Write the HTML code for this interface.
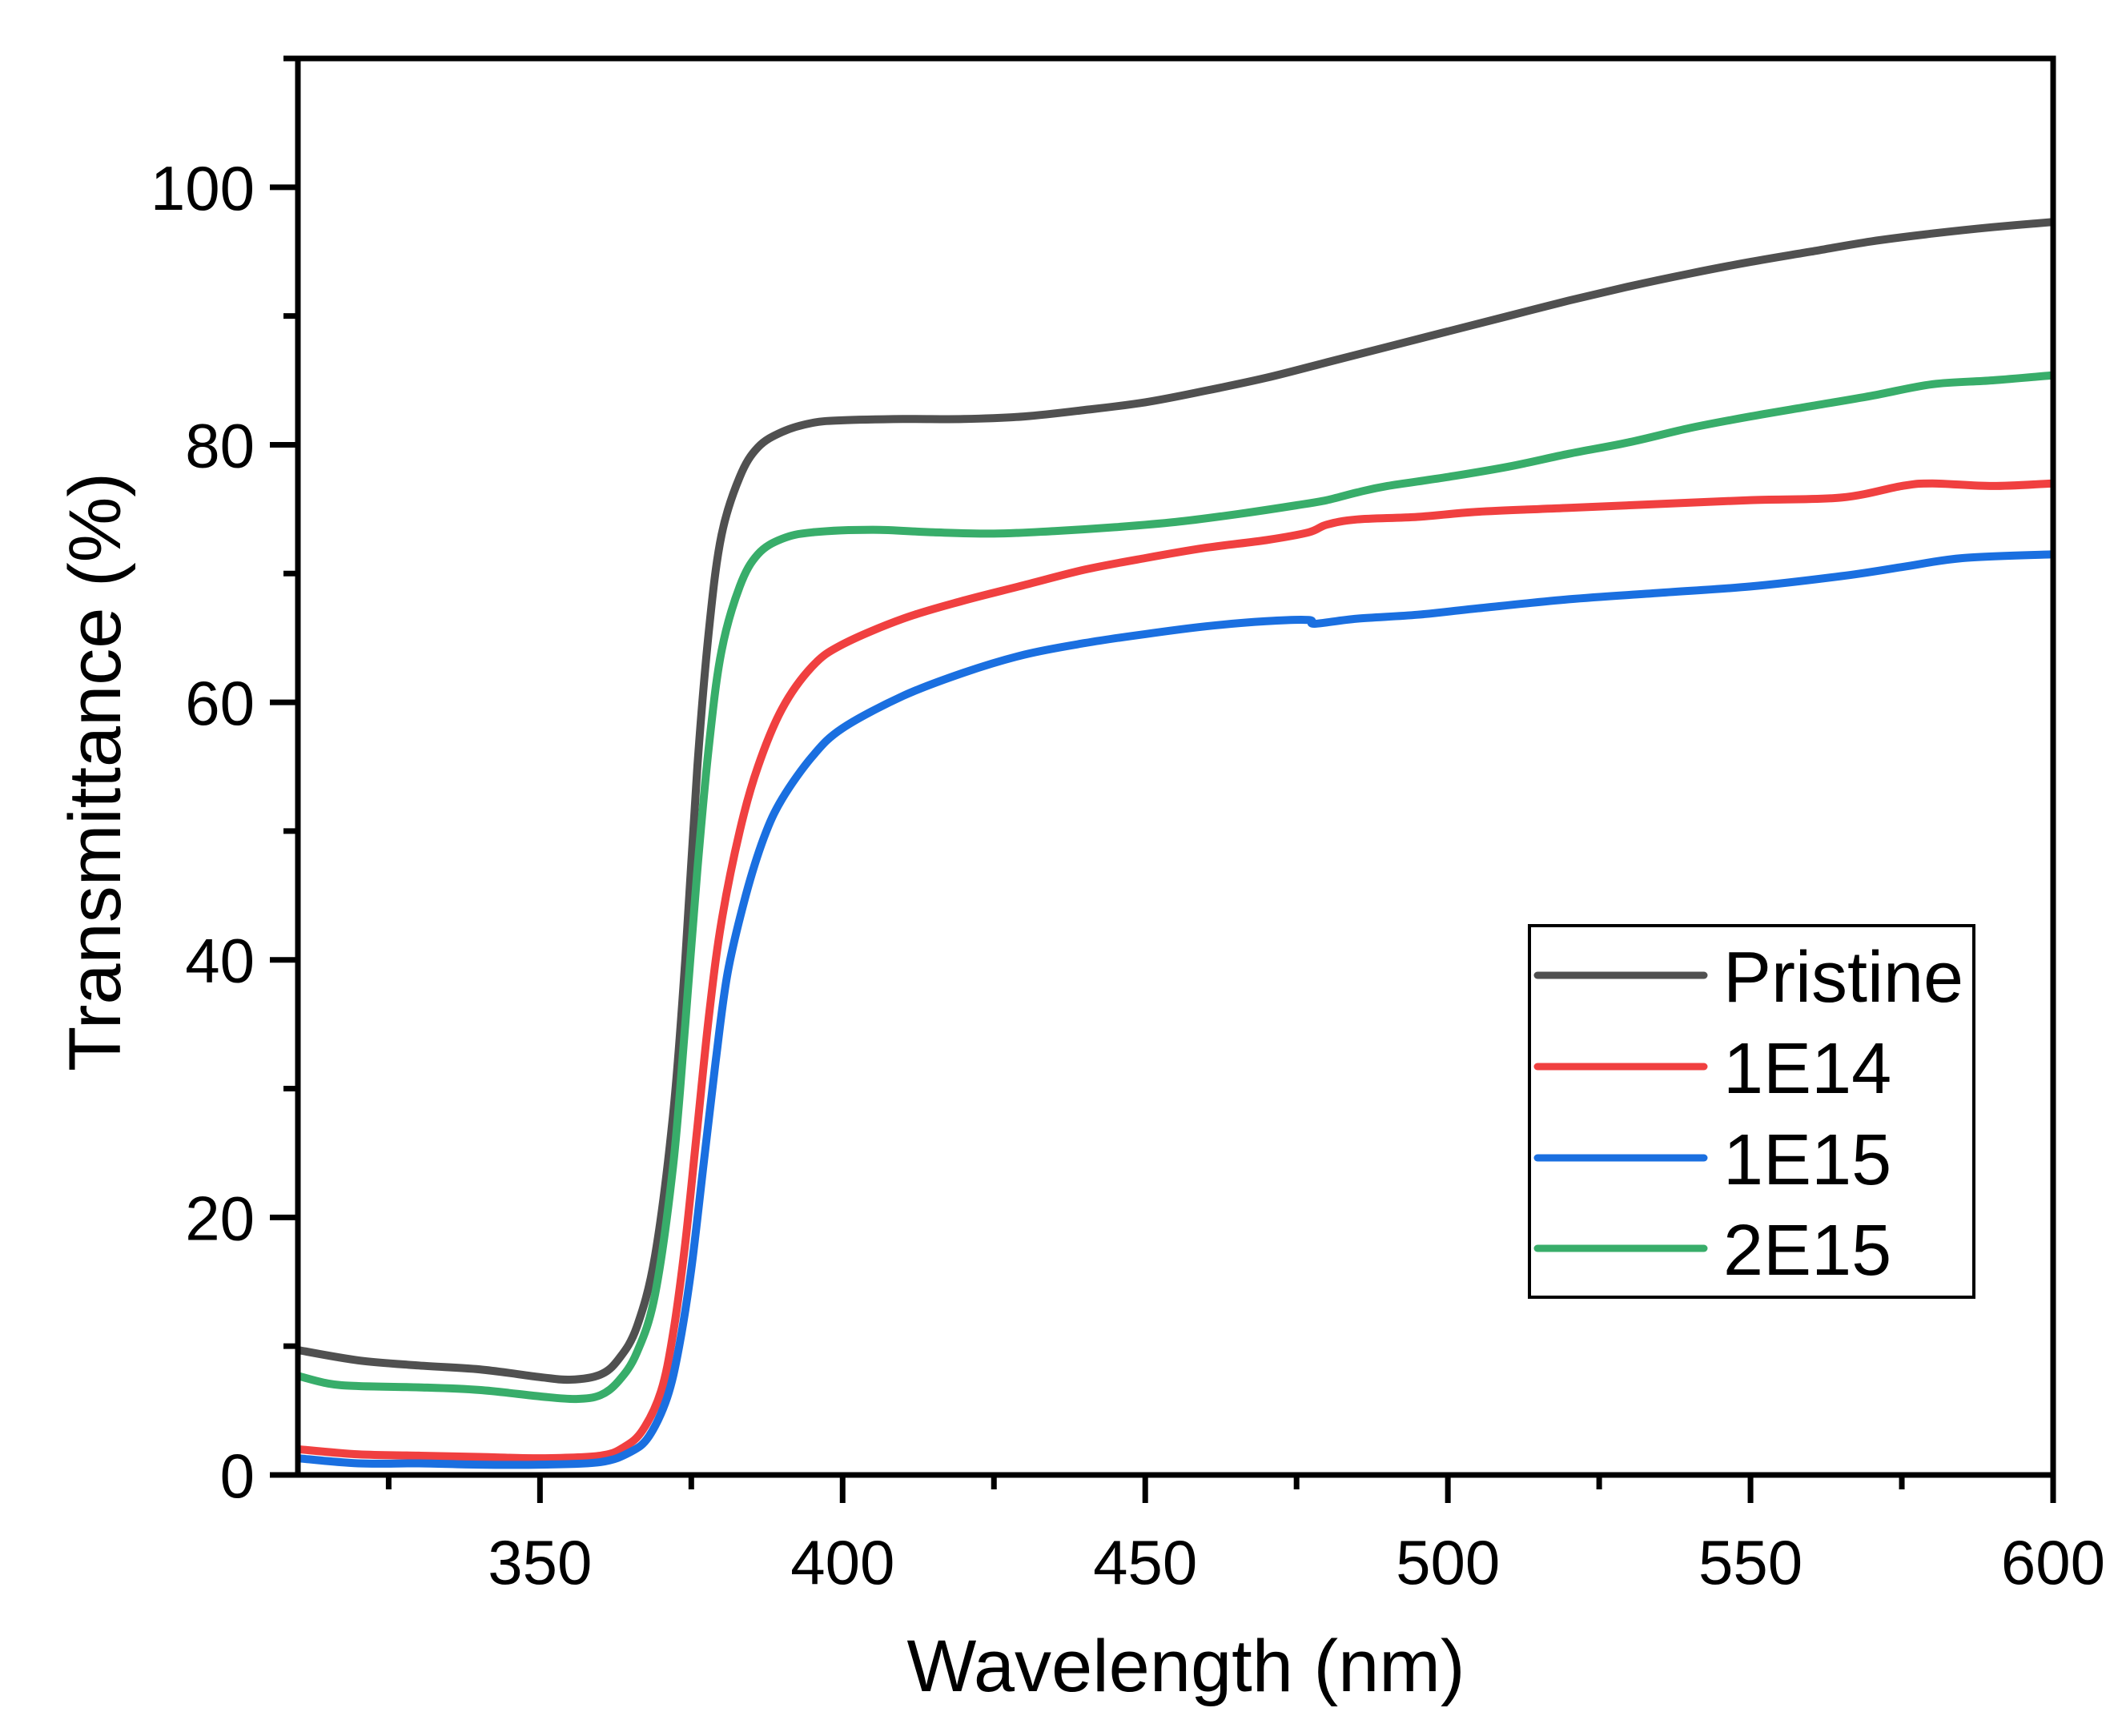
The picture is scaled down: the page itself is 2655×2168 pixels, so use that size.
<!DOCTYPE html>
<html><head><meta charset="utf-8"><style>
html,body{margin:0;padding:0;background:#fff;}
svg{display:block;font-family:"Liberation Sans",Arial,sans-serif;}
</style></head><body>
<svg id="chart" width="2655" height="2168" viewBox="0 0 2655 2168" xmlns="http://www.w3.org/2000/svg">
<rect width="2655" height="2168" fill="#fff"/>
<g id="series"></g>
<g id="axes"></g>
<text x="1481" y="2112" font-size="92" text-anchor="middle">Wavelength (nm)</text>
<text transform="translate(150,964) rotate(-90)" font-size="92" text-anchor="middle">Transmittance (%)</text>
<g>
<rect x="1910" y="1156" width="555" height="464" fill="#fff" stroke="#000" stroke-width="4"/>
<line x1="1920" y1="1218" x2="2128" y2="1218" stroke="#505050" stroke-width="9" stroke-linecap="round"/>
<text x="2152" y="1251" font-size="90">Pristine</text>
<line x1="1920" y1="1332" x2="2128" y2="1332" stroke="#f04040" stroke-width="9" stroke-linecap="round"/>
<text x="2152" y="1365" font-size="90">1E14</text>
<line x1="1920" y1="1446" x2="2128" y2="1446" stroke="#1a6fe0" stroke-width="9" stroke-linecap="round"/>
<text x="2152" y="1479" font-size="90">1E15</text>
<line x1="1920" y1="1559" x2="2128" y2="1559" stroke="#38ad6a" stroke-width="9" stroke-linecap="round"/>
<text x="2152" y="1592" font-size="90">2E15</text>
</g>
</svg>
<script>
const pristineX=[310,320,330,340,350,355,360,363,366,369,372,374,376,378,380,383,386,390,395,400,410,420,430,440,450,460,470,480,490,500,510,520,530,540,550,560,570,580,590,600];
const pristineY=[9.7,8.9,8.5,8.2,7.6,7.4,7.8,9,11.5,17,28,40,55,66,73,77.5,79.8,81,81.7,81.9,82,82,82.2,82.7,83.3,84.2,85.2,86.4,87.6,88.8,90,91.2,92.3,93.3,94.2,95,95.8,96.4,96.9,97.3];
const e2e15X=[310,315,320,330,340,350,356,360,363,366,369,372,374,376,378,380,383,386,390,395,405,415,425,435,445,455,465,475,480,485,490,500,510,520,530,540,550,560,570,580,590,600];
const e2e15Y=[7.7,7.1,6.9,6.8,6.6,6.1,5.9,6.2,7.3,9.5,14,24,35,47,57,64,69,71.5,72.7,73.2,73.4,73.2,73.1,73.3,73.6,74,74.6,75.3,75.7,76.3,76.8,77.5,78.3,79.3,80.2,81.3,82.2,83,83.8,84.7,85,85.4];
const e1e14X=[310,320,330,340,350,360,364,367,370,372,374,376,378,380,383,386,390,395,400,410,420,430,440,450,460,470,477,480,485,495,505,520,535,550,565,575,580,590,600];
const e1e14Y=[2,1.6,1.5,1.4,1.3,1.5,2.2,3.5,6.5,11,18,27,36,43,50,55,59.5,62.8,64.5,66.5,67.9,69.1,70.3,71.2,72,72.6,73.2,73.8,74.2,74.4,74.8,75.1,75.4,75.7,75.9,76.8,77,76.8,77];
const e1e15X=[310,320,330,340,350,360,365,368,371,373,375,377,379,381,384,387,390,395,400,410,420,430,440,450,460,470,477,478,485,495,505,520,535,550,565,575,585,600];
const e1e15Y=[1.3,0.9,0.9,0.8,0.8,1.0,1.8,3,6,10,16,24,32,39,45,49.5,52.5,55.8,58,60.5,62.3,63.7,64.6,65.3,65.9,66.3,66.4,66.1,66.5,66.8,67.3,68,68.5,69,69.8,70.5,71.2,71.5];
const xTicks=[350,400,450,500,550,600];
const xMinor=[325,375,425,475,525,575];
const yTicks=[0,20,40,60,80,100];
const yMinor=[10,30,50,70,90,110];

const X0=372,X1=2564,Y0=1842,Y1=73,XMIN=310,XMAX=600,YMIN=0,YMAX=110;
function sx(v){return X0+(v-XMIN)*(X1-X0)/(XMAX-XMIN);}
function sy(v){return Y0-(v-YMIN)*(Y0-Y1)/(YMAX-YMIN);}
const NS="http://www.w3.org/2000/svg";
function mk(tag,attrs,parent){const e=document.createElementNS(NS,tag);for(const k in attrs)e.setAttribute(k,attrs[k]);parent.appendChild(e);return e;}
function pathD(xs,ys){
  const p=xs.map((x,i)=>[sx(x),sy(ys[i])]);
  let d="M"+p[0][0].toFixed(1)+","+p[0][1].toFixed(1);
  for(let i=0;i<p.length-1;i++){
    const a=p[Math.max(0,i-1)],b=p[i],c=p[i+1],e=p[Math.min(p.length-1,i+2)];
    const c1x=b[0]+(c[0]-a[0])/6,c1y=b[1]+(c[1]-a[1])/6,c2x=c[0]-(e[0]-b[0])/6,c2y=c[1]-(e[1]-b[1])/6;
    d+=" C"+c1x.toFixed(1)+","+c1y.toFixed(1)+" "+c2x.toFixed(1)+","+c2y.toFixed(1)+" "+c[0].toFixed(1)+","+c[1].toFixed(1);
  }
  return d;
}
const sg=document.getElementById("series");
let el;
el=mk("path",{d:pathD(pristineX,pristineY),fill:"none",stroke:"#505050","stroke-width":10,"stroke-linejoin":"round"},sg);


el=mk("path",{d:pathD(e2e15X,e2e15Y),fill:"none",stroke:"#38ad6a","stroke-width":10,"stroke-linejoin":"round"},sg);


el=mk("path",{d:pathD(e1e14X,e1e14Y),fill:"none",stroke:"#f04040","stroke-width":10,"stroke-linejoin":"round"},sg);


el=mk("path",{d:pathD(e1e15X,e1e15Y),fill:"none",stroke:"#1a6fe0","stroke-width":10,"stroke-linejoin":"round"},sg);



const ag=document.getElementById("axes");
el=mk("path",{d:`M${X0},${Y1} L${X0},${Y0} L${X1},${Y0} L${X1},${Y1} Z`,fill:"none",stroke:"#000","stroke-width":7,"stroke-linejoin":"miter"},ag);


xTicks.forEach(v=>{
  const t=mk("line",{x1:sx(v),x2:sx(v),y1:Y0,y2:Y0+35,stroke:"#000","stroke-width":7},ag);
  
  
  const l=mk("text",{x:sx(v),y:1978,"font-size":78,"text-anchor":"middle"},ag);
  l.textContent=v;
  
  
});
xMinor.forEach(v=>{
  const t=mk("line",{x1:sx(v),x2:sx(v),y1:Y0,y2:Y0+18,stroke:"#000","stroke-width":7},ag);
  
  
});
yTicks.forEach(v=>{
  const t=mk("line",{x1:X0-35,x2:X0,y1:sy(v),y2:sy(v),stroke:"#000","stroke-width":7},ag);
  
  
  const l=mk("text",{x:318,y:sy(v)+28,"font-size":78,"text-anchor":"end"},ag);
  l.textContent=v;
  
  
});
yMinor.forEach(v=>{
  const t=mk("line",{x1:X0-18,x2:X0,y1:sy(v),y2:sy(v),stroke:"#000","stroke-width":7},ag);
  
  
});
</script>
</body></html>
